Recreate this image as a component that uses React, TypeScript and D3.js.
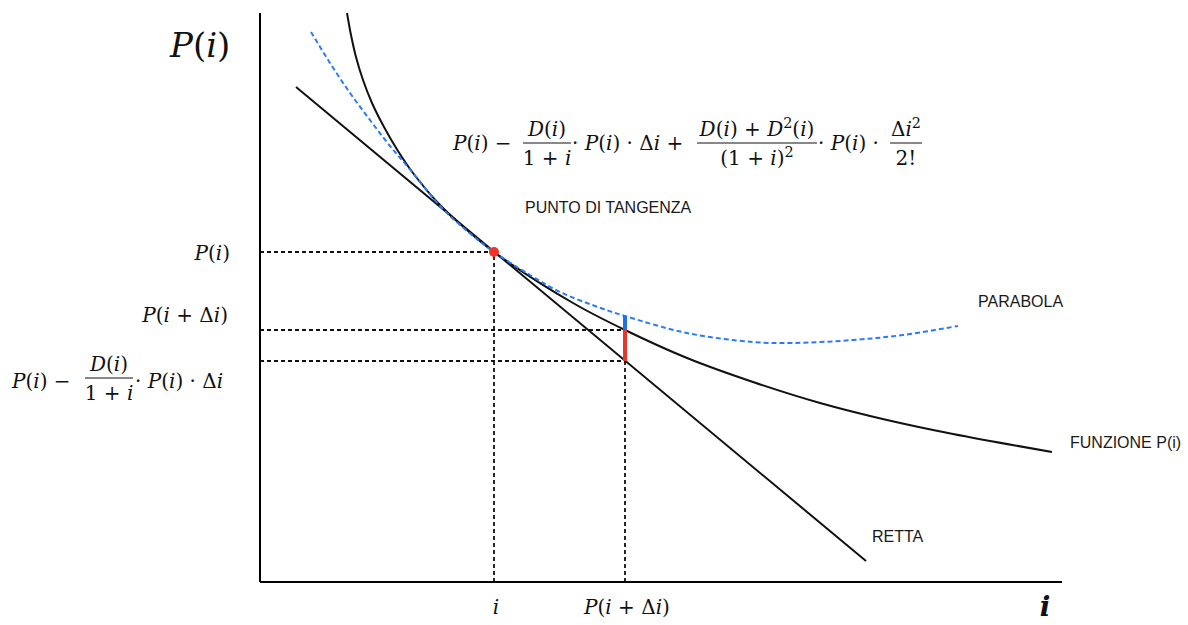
import React from 'react';
import * as d3 from 'd3';

// P(i) function (i, P)
const curveI = [0.87, 0.91, 0.96, 1.03, 1.12, 1.24, 1.38, 1.53, 1.8, 2.07, 2.34, 3.13, 3.65, 4.27, 4.93, 5.6, 6.27, 6.93, 7.92];
const curveP = [5.69, 5.47, 5.25, 5.02, 4.79, 4.55, 4.31, 4.09, 3.77, 3.52, 3.3, 2.79, 2.52, 2.24, 2.0, 1.79, 1.62, 1.48, 1.3];

// second order approximation (dashed blue)
const parabolaI = [0.51, 0.7, 0.9, 1.1, 1.3, 1.53, 1.8, 2.07, 2.34, 2.7, 3.0, 3.35, 3.65, 4.27, 4.93, 5.33, 5.93, 6.43, 6.98];
const parabolaP = [5.5, 5.19, 4.89, 4.62, 4.36, 4.09, 3.76, 3.51, 3.3, 3.07, 2.9, 2.76, 2.66, 2.49, 2.4, 2.39, 2.42, 2.47, 2.56];

// tangent line
const tangentI = [0.36, 6.06];
const tangentP = [4.95, 0.21];

// key values
const iValue = 2.34;
const pAtI = 3.3;
const iNext = 3.65;
const pNext = 2.52;
const pParabolaNext = 2.66;
const pTangentNext = 2.21;
const axisMax = [8.02, 5.69];

const W = 1188;
const H = 625;
const MATH_FONT = '"DejaVu Serif", "Liberation Serif", serif';
const SANS_FONT = '"Liberation Sans", Arial, sans-serif';

// letters in italic, "^x" as superscript
const MathText = ({ x, y, text, size, anchor = 'start', weight = 'normal' }: any) => {
  const parts: { t: string; it: boolean; sup: boolean }[] = [];
  const chars = Array.from(text as string);
  for (let k = 0; k < chars.length; k++) {
    let ch = chars[k];
    let sup = false;
    if (ch === '^') { sup = true; ch = chars[++k]; }
    const it = /[A-Za-z]/.test(ch);
    const last = parts[parts.length - 1];
    if (last && last.it === it && !last.sup && !sup) last.t += ch;
    else parts.push({ t: ch, it, sup });
  }
  const shift = size * 0.42;
  return (
    <text x={x} y={y} fontSize={size} fontFamily={MATH_FONT} textAnchor={anchor}
      fontWeight={weight} fill="#111" style={{ whiteSpace: 'pre' }}>
      {parts.map((p, k) => {
        const prevSup = k > 0 && parts[k - 1].sup;
        const dy = p.sup ? -shift : prevSup ? shift : undefined;
        return (
          <tspan key={k} fontStyle={p.it ? 'italic' : 'normal'} dy={dy}
            fontSize={p.sup ? size * 0.72 : undefined}>{p.t}</tspan>
        );
      })}
    </text>
  );
};

const Frac = ({ cx, yBar, num, den, size, half }: any) => (
  <g>
    <MathText x={cx} y={yBar - 7} text={num} size={size} anchor="middle" />
    <line x1={cx - half} x2={cx + half} y1={yBar} y2={yBar} stroke="#111" strokeWidth={1} />
    <MathText x={cx} y={yBar + 22} text={den} size={size} anchor="middle" />
  </g>
);

const App = () => {
  const x = d3.scaleLinear().domain([0, 8]).range([260, 1060]);
  const y = d3.scaleLinear().domain([0, 5.7]).range([582, 12]);

  const smooth = d3.line<[number, number]>()
    .x(d => x(d[0]))
    .y(d => y(d[1]))
    .curve(d3.curveCatmullRom.alpha(0.5));
  const straight = d3.line<[number, number]>().x(d => x(d[0])).y(d => y(d[1]));

  const curvePts = curveI.map((v, k) => [v, curveP[k]] as [number, number]);
  const parabolaPts = parabolaI.map((v, k) => [v, parabolaP[k]] as [number, number]);
  const tangentPts = tangentI.map((v, k) => [v, tangentP[k]] as [number, number]);

  const guides: [number, number][][] = [
    [[0, pAtI], [iValue, pAtI]],
    [[0, pNext], [iNext, pNext]],
    [[0, pTangentNext], [iNext, pTangentNext]],
    [[iValue, 0], [iValue, pAtI]],
    [[iNext, 0], [iNext, pTangentNext]],
  ];

  const fs = 20;

  return (
    <svg width={W} height={H} style={{ position: 'absolute', left: 0, top: 0, background: '#fff' }}>
      {/* dashed guides */}
      {guides.map((g, k) => (
        <path key={k} d={straight(g) || ''} stroke="#111" strokeWidth={1.8}
          strokeDasharray="4,3" fill="none" />
      ))}

      {/* axes */}
      <line x1={x(0)} x2={x(axisMax[0])} y1={y(0)} y2={y(0)} stroke="#000" strokeWidth={2} />
      <line x1={x(0)} x2={x(0)} y1={y(0)} y2={y(axisMax[1])} stroke="#000" strokeWidth={2} />

      {/* tangent and function */}
      <path d={straight(tangentPts) || ''} stroke="#111" strokeWidth={2} fill="none" />
      <path d={smooth(curvePts) || ''} stroke="#111" strokeWidth={2} fill="none" />
      <path d={smooth(parabolaPts) || ''} stroke="#2a7bf6" strokeWidth={2}
        strokeDasharray="5,3" fill="none" />

      {/* differences */}
      <line x1={x(iNext)} x2={x(iNext)} y1={y(pParabolaNext)} y2={y(pNext)}
        stroke="#1f6ff0" strokeWidth={4} />
      <line x1={x(iNext)} x2={x(iNext)} y1={y(pNext)} y2={y(pTangentNext)}
        stroke="#ec3527" strokeWidth={4} />
      <circle cx={x(iValue)} cy={y(pAtI)} r={5} fill="#ec3527" />

      {/* axis titles */}
      <MathText x={170} y={57} text="P(i)" size={34} />
      <MathText x={1045} y={616} text="i" size={28} weight="bold" anchor="middle" />

      {/* y labels */}
      <MathText x={230} y={260} text="P(i)" size={fs} anchor="end" />
      <MathText x={228} y={322} text="P(i + Δi)" size={fs} anchor="end" />
      <MathText x={12} y={388} text="P(i) −" size={fs} />
      <Frac cx={109} yBar={378} num="D(i)" den="1 + i" size={fs} half={24} />
      <MathText x={135} y={388} text="· P(i) · Δi" size={fs} />

      {/* x labels */}
      <MathText x={x(iValue) + 2} y={614} text="i" size={fs} anchor="middle" />
      <MathText x={x(iNext) + 2} y={614} text="P(i + Δi)" size={fs} anchor="middle" />

      {/* Taylor formula */}
      <MathText x={453} y={150} text="P(i) −" size={fs} />
      <Frac cx={547} yBar={143} num="D(i)" den="1 + i" size={fs} half={24} />
      <MathText x={572} y={150} text="· P(i) · Δi +" size={fs} />
      <Frac cx={757} yBar={143} num="D(i) + D^2(i)" den="(1 + i)^2" size={fs} half={60} />
      <MathText x={818} y={150} text="· P(i) ·" size={fs} />
      <Frac cx={906} yBar={143} num="Δi^2" den="2!" size={fs} half={16} />

      {/* annotations */}
      <g fontFamily={SANS_FONT} fontSize={16} fill="#1a1a1a">
        <text x={525} y={213}>PUNTO DI TANGENZA</text>
        <text x={978} y={307}>PARABOLA</text>
        <text x={1070} y={448}>FUNZIONE P(i)</text>
        <text x={872} y={542}>RETTA</text>
      </g>
    </svg>
  );
};

export default App;
